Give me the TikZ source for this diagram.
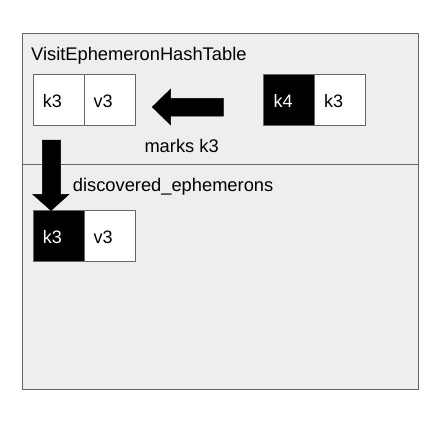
\documentclass[tikz,border=0pt]{standalone}
\usepackage{fontspec}
\setmainfont{Liberation Sans}
\definecolor{panelfill}{HTML}{EEEEEE}
\definecolor{edgegray}{HTML}{666666}
\begin{document}
\begin{tikzpicture}[x=1pt,y=-1pt,
  lbl/.style={anchor=base west, inner sep=0pt, font=\fontsize{18.3}{20}\selectfont},
  cell/.style={draw=edgegray, line width=1pt, minimum width=51pt, minimum height=51pt,
    inner sep=0pt, outer sep=0pt, fill=white},
  darkcell/.style={cell, fill=black},
  celltext/.style={anchor=base west, inner sep=0pt, font=\fontsize{18}{20}\selectfont},
  blockarrow/.style={fill=black, draw=black, line width=0.5pt, line join=miter}]
\useasboundingbox (0,0) rectangle (438,442);
\fill[white] (0,0) rectangle (438,442);
\node[draw=edgegray, fill=panelfill, line width=1pt, anchor=north west, inner sep=0pt,
  minimum width=396pt, minimum height=356.5pt] (outer) at (22.3,32.7) {};
\coordinate (divl) at (22.3,164.5);
\coordinate (divr) at (418.3,164.5);
\draw[edgegray, line width=1pt] (divl) -- (divr);
\node[lbl] (title) at (31,60) {VisitEphemeronHashTable};
\node[cell] (k3a) at (59,100) {};
\node[cell] (v3a) at (110,100) {};
\node[darkcell] (k4) at (289,100) {};
\node[cell] (k3b) at (340,100) {};
\node[darkcell] (k3c) at (59,236.3) {};
\node[cell] (v3c) at (110,236.3) {};
\node[celltext] (tk3a) at (42.7,107) {k3};
\node[celltext] (tv3a) at (93.5,107) {v3};
\node[celltext, text=white] (tk4) at (273.3,107) {k4};
\node[celltext] (tk3b) at (324,107) {k3};
\node[celltext, text=white] (tk3c) at (42.7,243.3) {k3};
\node[celltext] (tv3c) at (93.5,243.3) {v3};
\node[lbl] (marks) at (144.3,152) {marks k3};
\node[lbl] (disc) at (72.7,191.7) {discovered\_ephemerons};
\fill[blockarrow] (223.3,98.3) -- (170.7,98.3) -- (170.7,89) -- (152.3,107) -- (170.7,125) -- (170.7,116) -- (223.3,116) -- cycle;
\fill[blockarrow] (42.3,140) -- (60.7,140) -- (60.7,194.3) -- (69,194.3) -- (51,210.5) -- (32.7,194.3) -- (42.3,194.3) -- cycle;
\end{tikzpicture}
\end{document}
